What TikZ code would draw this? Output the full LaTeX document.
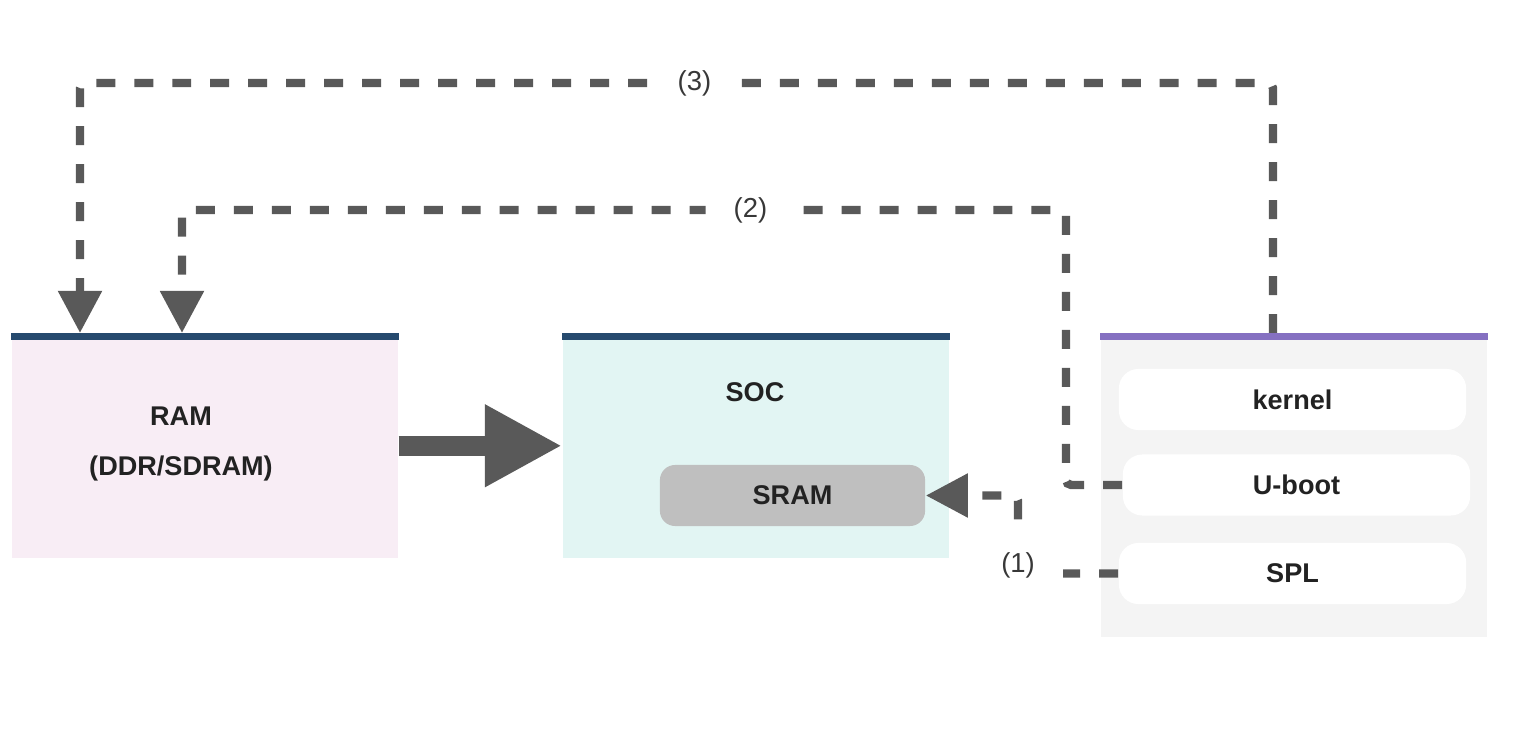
\documentclass[tikz,border=0pt]{standalone}
\usepackage{fontspec}
\setmainfont{Liberation Sans}
\usepackage{xcolor}
\usepackage{tikz}
\usetikzlibrary{arrows.meta}
\definecolor{flowgray}{HTML}{595959}
\definecolor{barnavy}{HTML}{264A6E}
\definecolor{barpurple}{HTML}{8570C1}
\definecolor{rampink}{HTML}{F8EDF5}
\definecolor{soccyan}{HTML}{E2F5F3}
\definecolor{bootgray}{HTML}{F4F4F4}
\definecolor{sramgray}{HTML}{BFBFBF}
\definecolor{inktext}{HTML}{222222}
\newcommand{\boxfont}{\fontsize{7.7}{9}\selectfont\bfseries}
\tikzset{
  panel/.style   = {anchor=north west, inner sep=0pt, minimum width=3.86cm},
  boxlbl/.style  = {font=\boxfont, text=inktext, inner sep=0pt},
  inbox/.style   = {boxlbl, fill=white, rounded corners=5.5pt,
                    minimum width=3.47cm, minimum height=0.61cm},
  flow/.style    = {-{Triangle[length=0.42cm,width=0.42cm]}, flowgray,
                    line width=2.4pt, dash pattern=on 5.4pt off 5.4pt,
                    rounded corners=1.5pt},
  flowlbl/.style = {fill=white, text=inktext!90, inner xsep=8pt, inner ysep=3pt,
                    font=\fontsize{7.8}{9}\selectfont},
  bigarr/.style  = {-{Triangle[length=0.77cm,width=0.77cm]}, flowgray,
                    line width=0.2cm}
}

\begin{document}
\begin{tikzpicture}[x=0.01cm,y=-0.01cm]
  \useasboundingbox (0,0) rectangle (1534,740);
  % panels with their top bars
  \node[panel,fill=rampink,minimum height=2.24cm] (ram) at (11,333) {};
  \node[panel,fill=soccyan,minimum height=2.24cm] (soc) at (562,333) {};
  \node[panel,fill=bootgray,minimum height=3.03cm] (boot) at (1100,333) {};
  \fill[barnavy] (ram.north west) rectangle ([yshift=-0.07cm]ram.north east);
  \fill[barnavy] (soc.north west) rectangle ([yshift=-0.07cm]soc.north east);
  \fill[barpurple] (boot.north west) rectangle ([yshift=-0.07cm]boot.north east);
  \node[boxlbl,align=center] (ramtxt) at (181,444) {RAM\\[5pt](DDR/SDRAM)};
  \node[boxlbl] (soctxt) at (755,392) {SOC};
  \node[inbox,fill=sramgray,minimum width=2.65cm,rounded corners=4.3pt]
       (sram) at (792.5,495.5) {SRAM};
  \node[inbox] (kernel) at (1292.5,399.5) {kernel};
  \node[inbox] (uboot) at (1296.5,485) {U-boot};
  \node[inbox] (spl) at (1292.5,573.5) {SPL};
  % RAM feeds the SOC
  \draw[bigarr] (ram.east) -- (soc.west);
  % boot stages, dashed
  \coordinate (kout) at (1273,333);
  \coordinate (ramin3) at (80,333);
  \coordinate (ramin2) at (182,333);
  \draw[flow] (spl.west) -| node[flowlbl,inner ysep=6pt,yshift=0.08cm]{(1)}
       (sram.east -| 1018,0) -- (sram.east);
  \draw[flow] (uboot.west) -| (1066,210)
       -- node[flowlbl,pos=0.357]{(2)} (ramin2 |- 0,210) -- (ramin2);
  \draw[flow] (kout) -- (kout |- 0,83)
       -- node[flowlbl,pos=0.485]{(3)} (ramin3 |- 0,83) -- (ramin3);
\end{tikzpicture}
\end{document}
